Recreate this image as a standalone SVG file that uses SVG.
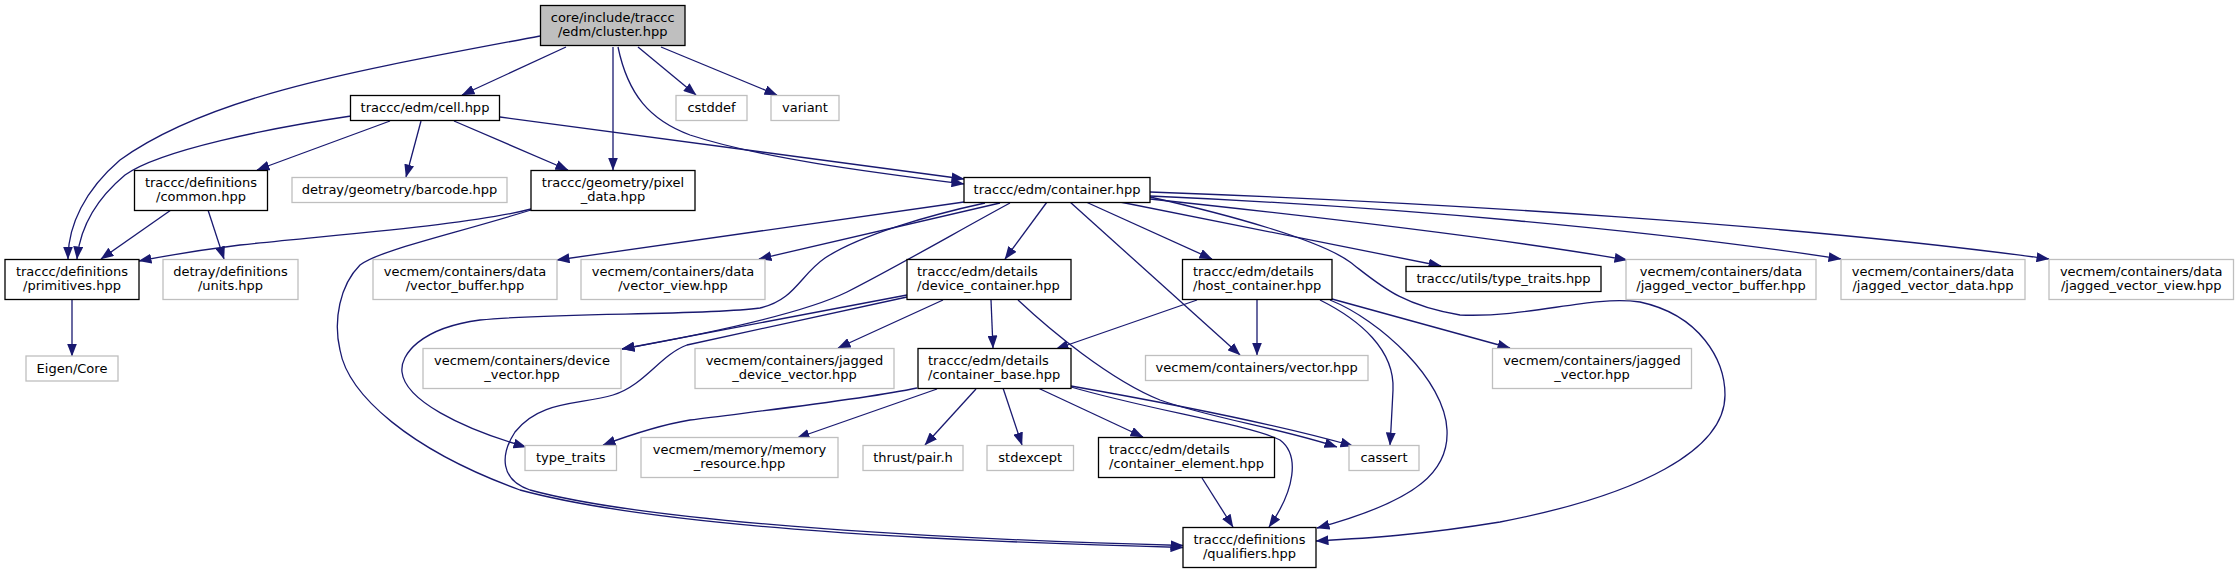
<svg xmlns="http://www.w3.org/2000/svg" width="2239" height="573" viewBox="0 0 2239 573">
<style>
.b rect{fill:#fff;stroke:#000;stroke-width:1.3}
.g rect{fill:#fff;stroke:#bfbfbf;stroke-width:1.3}
.r rect{fill:#bfbfbf;stroke:#000;stroke-width:1.3}
text{font-family:"DejaVu Sans","Liberation Sans",sans-serif;font-size:13px;fill:#000}
.c text{text-anchor:middle}
.l text{text-anchor:start}
#edges path{fill:none;stroke:#191970;stroke-width:1.3;marker-end:url(#a)}
</style>
<defs>
<marker id="a" markerUnits="userSpaceOnUse" markerWidth="13" markerHeight="10" viewBox="0 0 13 10" refX="12.5" refY="5" orient="auto">
<path d="M0,0 L13,5 L0,10 z" fill="#191970"/>
</marker>
</defs>
<rect width="2239" height="573" fill="#fff"/>
<g id="edges">
<path d="M540,36 C360,70 210,95 120,160 C85,190 68,225 68,259"/>
<path d="M566,47 L462,95"/>
<path d="M613,47 L613,170"/>
<path d="M618,47 C628,95 650,120 690,135 C760,158 870,172 964,184"/>
<path d="M638,47 L696,95"/>
<path d="M661,47 L777,95"/>
<path d="M351,116 C270,128 160,150 125,175 C95,200 80,228 77,259"/>
<path d="M390,121 L257,170"/>
<path d="M421,121 L406,177"/>
<path d="M454,121 L568,170"/>
<path d="M500,117 L964,179"/>
<path d="M171,210 L101,259"/>
<path d="M208,210 L224,259"/>
<path d="M531,209 C470,225 330,235 240,245 C200,250 165,256 139,261"/>
<path d="M531,210 C450,235 380,250 360,265 C340,285 333,320 340,350 C348,395 410,450 520,490 C650,525 900,540 1183,547.5"/>
<path d="M72,299 L72,356"/>
<path d="M964,202 L557,260"/>
<path d="M1000,203 L759,259"/>
<path d="M985,203 C930,215 860,235 825,258 C800,275 795,300 760,308 C700,316 560,312 480,320 C420,328 400,355 402,372 C405,400 460,428 526,447"/>
<path d="M1010,203 C960,230 900,265 847,292 C800,315 700,335 622,349"/>
<path d="M1047,202 L1005,259"/>
<path d="M1086,202 L1212,259"/>
<path d="M1120,202 L1441,266"/>
<path d="M1070,202 L1240,355"/>
<path d="M1150,199 C1300,215 1500,238 1627,260"/>
<path d="M1150,196 C1400,207 1650,230 1841,259"/>
<path d="M1150,192 C1450,203 1800,225 2049,259"/>
<path d="M1150,197 C1230,215 1320,240 1350,262 C1380,285 1400,305 1460,315 C1530,318 1590,295 1640,302 C1700,315 1725,360 1725,395 C1725,450 1640,495 1500,522 C1420,535 1370,538 1316,541"/>
<path d="M907,295 L622,349"/>
<path d="M943,300 L838,348"/>
<path d="M991,300 L993,348"/>
<path d="M1018,300 C1050,330 1110,380 1160,400 C1210,418 1280,428 1337,447"/>
<path d="M907,297 L687,345 C660,355 645,385 613,395 C580,405 540,400 515,432 C500,455 500,480 530,490 C640,520 900,538 1183,545.5"/>
<path d="M1197,300 L1056,349"/>
<path d="M1257,300 L1257,355"/>
<path d="M1332,299 L1510,348"/>
<path d="M1320,300 C1360,320 1395,350 1393,390 C1392,410 1391,430 1390,445"/>
<path d="M1330,300 C1380,320 1445,380 1447,430 C1449,470 1420,500 1317,528"/>
<path d="M917,388 C860,400 750,412 690,420 C660,425 630,435 603,445"/>
<path d="M937,389 L797,438"/>
<path d="M976,389 L925,445"/>
<path d="M1003,388 L1022,445"/>
<path d="M1038,388 L1143,437"/>
<path d="M1071,386 C1150,400 1280,425 1353,446"/>
<path d="M1071,387 C1150,410 1250,425 1280,440 C1300,455 1295,490 1269,527"/>
<path d="M1202,478 L1233,527"/>
</g>
<g id="n_cluster" class="r c"><rect x="540.5" y="5.5" width="144.5" height="40"/><text x="612.7" y="21.5">core/include/traccc</text><text x="612.7" y="36">/edm/cluster.hpp</text></g>
<g id="n_cell" class="b c"><rect x="350.5" y="95.5" width="149" height="25"/><text x="425" y="112">traccc/edm/cell.hpp</text></g>
<g id="n_cstddef" class="g c"><rect x="676" y="95.5" width="71" height="25"/><text x="711.5" y="112">cstddef</text></g>
<g id="n_variant" class="g c"><rect x="771" y="95.5" width="68" height="25"/><text x="805" y="112">variant</text></g>
<g id="n_common" class="b c"><rect x="134.5" y="170.5" width="133" height="40"/><text x="201" y="186.5">traccc/definitions</text><text x="201" y="201">/common.hpp</text></g>
<g id="n_barcode" class="g c"><rect x="292" y="177.5" width="215" height="25"/><text x="399.5" y="194">detray/geometry/barcode.hpp</text></g>
<g id="n_pixel" class="b c"><rect x="531" y="170.5" width="164" height="40"/><text x="613" y="186.5">traccc/geometry/pixel</text><text x="613" y="201">_data.hpp</text></g>
<g id="n_container" class="b c"><rect x="964" y="177.5" width="186" height="25"/><text x="1057" y="194">traccc/edm/container.hpp</text></g>
<g id="n_primitives" class="b c"><rect x="5" y="259.5" width="134" height="40"/><text x="72" y="275.5">traccc/definitions</text><text x="72" y="290">/primitives.hpp</text></g>
<g id="n_units" class="g c"><rect x="163" y="259.5" width="135" height="40"/><text x="230.5" y="275.5">detray/definitions</text><text x="230.5" y="290">/units.hpp</text></g>
<g id="n_vbuffer" class="g c"><rect x="373" y="259.5" width="184" height="40"/><text x="465" y="275.5">vecmem/containers/data</text><text x="465" y="290">/vector_buffer.hpp</text></g>
<g id="n_vview" class="g c"><rect x="581" y="259.5" width="184" height="40"/><text x="673" y="275.5">vecmem/containers/data</text><text x="673" y="290">/vector_view.hpp</text></g>
<g id="n_devcont" class="b l"><rect x="907" y="259.5" width="164" height="40"/><text x="917" y="275.5">traccc/edm/details</text><text x="917" y="290">/device_container.hpp</text></g>
<g id="n_hostcont" class="b l"><rect x="1182.5" y="259.5" width="149.5" height="40"/><text x="1193" y="275.5">traccc/edm/details</text><text x="1193" y="290">/host_container.hpp</text></g>
<g id="n_utiltraits" class="b c"><rect x="1406" y="266.5" width="195" height="25"/><text x="1503.5" y="283">traccc/utils/type_traits.hpp</text></g>
<g id="n_jvbuffer" class="g c"><rect x="1626" y="259.5" width="190" height="40"/><text x="1721" y="275.5">vecmem/containers/data</text><text x="1721" y="290">/jagged_vector_buffer.hpp</text></g>
<g id="n_jvdata" class="g c"><rect x="1841" y="259.5" width="184" height="40"/><text x="1933" y="275.5">vecmem/containers/data</text><text x="1933" y="290">/jagged_vector_data.hpp</text></g>
<g id="n_jvview" class="g c"><rect x="2049" y="259.5" width="184.5" height="40"/><text x="2141.2" y="275.5">vecmem/containers/data</text><text x="2141.2" y="290">/jagged_vector_view.hpp</text></g>
<g id="n_eigen" class="g c"><rect x="26" y="356" width="92" height="25"/><text x="72" y="372.5">Eigen/Core</text></g>
<g id="n_devvec" class="g c"><rect x="423" y="348.5" width="198" height="40"/><text x="522" y="364.5">vecmem/containers/device</text><text x="522" y="379">_vector.hpp</text></g>
<g id="n_jdevvec" class="g c"><rect x="695" y="348.5" width="199" height="40"/><text x="794.5" y="364.5">vecmem/containers/jagged</text><text x="794.5" y="379">_device_vector.hpp</text></g>
<g id="n_contbase" class="b l"><rect x="918" y="348.5" width="153" height="40"/><text x="928" y="364.5">traccc/edm/details</text><text x="928" y="379">/container_base.hpp</text></g>
<g id="n_vector" class="g c"><rect x="1145.5" y="355.5" width="222.5" height="25"/><text x="1256.7" y="372">vecmem/containers/vector.hpp</text></g>
<g id="n_jvector" class="g c"><rect x="1492.5" y="348.5" width="199" height="40"/><text x="1592" y="364.5">vecmem/containers/jagged</text><text x="1592" y="379">_vector.hpp</text></g>
<g id="n_typetraits" class="g c"><rect x="525" y="445.5" width="91.5" height="25"/><text x="570.7" y="462">type_traits</text></g>
<g id="n_memres" class="g c"><rect x="641" y="437.5" width="197" height="40"/><text x="739.5" y="453.5">vecmem/memory/memory</text><text x="739.5" y="468">_resource.hpp</text></g>
<g id="n_pair" class="g c"><rect x="863" y="445.5" width="100" height="25"/><text x="913" y="462">thrust/pair.h</text></g>
<g id="n_stdexcept" class="g c"><rect x="987" y="445.5" width="86.5" height="25"/><text x="1030.2" y="462">stdexcept</text></g>
<g id="n_contelem" class="b l"><rect x="1098.5" y="437.5" width="176" height="40"/><text x="1109" y="453.5">traccc/edm/details</text><text x="1109" y="468">/container_element.hpp</text></g>
<g id="n_cassert" class="g c"><rect x="1349" y="445.5" width="70" height="25"/><text x="1384" y="462">cassert</text></g>
<g id="n_qualifiers" class="b c"><rect x="1183" y="527.5" width="133" height="40"/><text x="1249.5" y="543.5">traccc/definitions</text><text x="1249.5" y="558">/qualifiers.hpp</text></g>
</svg>
